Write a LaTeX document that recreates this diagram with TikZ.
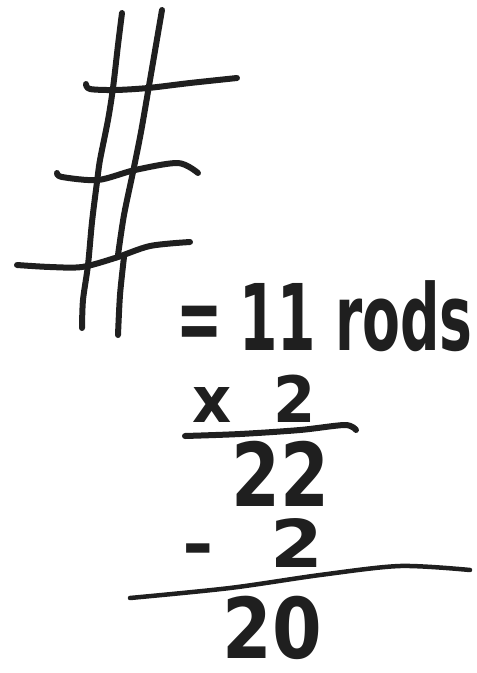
\documentclass[tikz,border=0pt]{standalone}
\usepackage{fontspec}
\setmainfont{DejaVu Sans}
\tikzset{
  pen/.style={line width=6pt, line cap=round, line join=round, black!88},
  hand/.style={inner sep=0pt, black!88, font=\bfseries},
}
\newcommand{\hw}[3]{\fontsize{#1}{#1}\selectfont\scalebox{#2}[1]{#3}}

\begin{document}
\begin{tikzpicture}[x=1pt, y=-1pt]
  \useasboundingbox (0,0) rectangle (477,673);
  % the two rods standing up
  \draw[pen] plot[smooth] coordinates {(122,13) (118,45) (113,88) (108,120) (100,160) (97,182) (92,222) (88,265) (83,300) (82,328)};
  \draw[pen] plot[smooth] coordinates {(162,10) (150,80) (141,132) (133,172) (124,215) (118,255)};
  \draw[pen] plot[smooth] coordinates {(124,257) (120,295) (118,335)};
  % the three rods across
  \draw[pen] plot[smooth] coordinates {(86,84) (90,89) (115,90) (148,88) (190,83) (237,78)};
  \draw[pen] plot[smooth] coordinates {(57,173) (62,177) (98,180) (135,170) (178,163) (198,173)};
  \draw[pen] plot[smooth] coordinates {(17,265) (50,267) (82,267) (115,258) (150,246) (190,242)};
  % sum
  \node[hand, anchor=base west] (rods) at (176,350) {\hw{92}{0.6}{=\hspace{0.3em}11 rods}};
  \node[hand, anchor=base west] (times) at (192,422) {\hw{64}{0.95}{x\hspace{0.7em}2}};
  \draw[pen] plot[smooth] coordinates {(185,436) (240,434) (300,430) (345,425) (356,430)};
  \node[hand, anchor=base] (prod) at (280,506) {\hw{88}{0.8}{22}};
  \node[hand, anchor=base west] (minus) at (182,567) {\hw{66}{1.15}{-\hspace{0.75em}2}};
  \draw[pen, line width=4.5pt] plot[smooth] coordinates {(130,598) (230,588) (320,575) (400,566) (470,570)};
  \node[hand, anchor=base] (result) at (272,658) {\hw{84}{0.85}{20}};
\end{tikzpicture}
\end{document}
